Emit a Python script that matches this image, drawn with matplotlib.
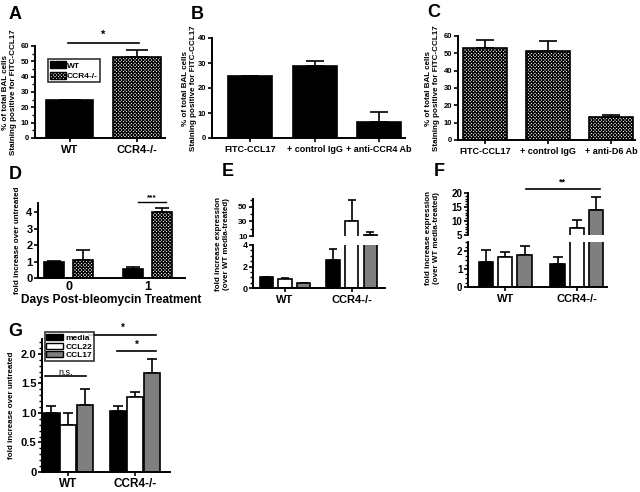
import numpy as np
import matplotlib
matplotlib.use("Agg")
import matplotlib.pyplot as plt
from matplotlib.patches import Patch

plt.rcParams['font.family'] = ['Liberation Sans', 'DejaVu Sans']
plt.rcParams['font.weight'] = 'bold'
plt.rcParams['hatch.linewidth'] = 0.8

# ---- data ----
a_labels = ['WT', 'CCR4-/-']
a_vals = [25, 53]
a_err = [0, 4.5]

b_labels = ['FITC-CCL17', '+ control IgG', '+ anti-CCR4 Ab']
b_vals = [25, 29, 6.5]
b_err = [0, 2, 4]

c_labels = ['FITC-CCL17', '+ control IgG', '+ anti-D6 Ab']
c_vals = [53, 51.5, 13.5]
c_err = [4.5, 5.5, 1]

d_days = ['0', '1']
d_wt = [1.0, 0.55]
d_wt_err = [0.05, 0.13]
d_ko = [1.12, 4.0]
d_ko_err = [0.58, 0.27]

groups = ['WT', 'CCR4-/-']
e_media = [1.05, 2.6]
e_media_err = [0, 1.0]
e_ccl22 = [0.85, 30]
e_ccl22_err = [0.05, 30]
e_ccl17 = [0.5, 12]
e_ccl17_err = [0, 4]

f_media = [1.37, 1.26]
f_media_err = [0.7, 0.43]
f_ccl22 = [1.64, 7.5]
f_ccl22_err = [0.32, 2.9]
f_ccl17 = [1.78, 13.9]
f_ccl17_err = [0.49, 4.7]

g_media = [1.0, 1.04]
g_media_err = [0.12, 0.07]
g_ccl22 = [0.80, 1.27]
g_ccl22_err = [0.19, 0.09]
g_ccl17 = [1.13, 1.67]
g_ccl17_err = [0.28, 0.25]
g_legend = ['media', 'CCL22', 'CCL17']

W, H = 640, 492
fig = plt.figure(figsize=(W / 100, H / 100), dpi=100)
GRAY = '#7f7f7f'
HATCH = 'xxxxxxxxxx'


def add_ax(x0, y0, x1, y1):
    return fig.add_axes([x0 / W, 1 - y1 / H, (x1 - x0) / W, (y1 - y0) / H])


def style(ax, ysize=6, xsize=7, bottom=True):
    for s in ['top', 'right']:
        ax.spines[s].set_visible(False)
    ax.spines['left'].set_linewidth(1.4)
    ax.spines['bottom'].set_linewidth(1.4)
    if not bottom:
        ax.spines['bottom'].set_visible(False)
    ax.tick_params(axis='y', width=1.2, length=3, labelsize=ysize, pad=1)
    ax.tick_params(axis='y', which='minor', width=1, length=2)
    ax.tick_params(axis='x', width=1.2, length=3, labelsize=xsize, pad=2)
    for t in ax.get_yticklabels() + ax.get_xticklabels():
        t.set_fontweight('bold')


def bars(ax, x, vals, err, color, hatch=None, width=0.7, cap=5):
    ax.bar(x, vals, width, color=color, edgecolor='black', linewidth=1.2,
           hatch=hatch, zorder=2)
    ax.errorbar(x, vals, yerr=[np.zeros(len(vals)), err], fmt='none',
                ecolor='black', elinewidth=1.2, capsize=cap, capthick=1.2,
                zorder=1)


def panel_letter(x, y, s):
    fig.text(x / W, 1 - y / H, s, fontsize=13, fontweight='bold',
             va='top', ha='left')


ylab_bal = '% of total BAL cells\nStaining positive for FITC-CCL17'

# ---- A ----
ax = add_ax(35, 46, 165, 138)
xa = np.arange(len(a_vals))
ax.bar(xa[0], a_vals[0], 0.7, color='black', edgecolor='black', linewidth=1.2, zorder=2)
ax.bar(xa[1], a_vals[1], 0.72, color='white', edgecolor='black', linewidth=1.2,
       hatch=HATCH, zorder=2)
ax.errorbar(xa, a_vals, yerr=[[0, 0], a_err], fmt='none', ecolor='black',
            elinewidth=1.2, capsize=8, capthick=1.2, zorder=1)
ax.set_xlim(-0.52, 1.42)
ax.set_ylim(0, 60)
ax.set_yticks(range(0, 61, 10))
ax.set_yticks(range(0, 61, 5), minor=True)
ax.set_xticks(xa)
ax.set_xticklabels(a_labels)
style(ax, ysize=5.5, xsize=8)
ax.set_ylabel(ylab_bal, fontsize=5.8, fontweight='bold', labelpad=3)
ax.plot([-0.03, 1.03], [62, 62], color='black', lw=1.2, clip_on=False)
ax.text(0.5, 64, '*', ha='center', va='bottom', fontsize=8)
leg = ax.legend(handles=[Patch(fc='black', ec='black', label='WT'),
                         Patch(fc='white', ec='black', hatch=HATCH, label='CCR4-/-')],
                loc='upper left', bbox_to_anchor=(0.07, 0.9), frameon=True,
                fancybox=False, edgecolor='black', borderpad=0.25,
                handlelength=1.9, handleheight=0.9, handletextpad=0.1,
                labelspacing=0.25, prop={'weight': 'bold', 'size': 6})
leg.get_frame().set_linewidth(1.2)
panel_letter(9, 6, 'A')

# ---- B ----
ax = add_ax(212, 38, 405, 138)
xb = np.arange(len(b_vals))
bars(ax, xb, b_vals, b_err, 'black', width=0.68, cap=6.5)
ax.set_xlim(-0.59, 2.4)
ax.set_ylim(0, 40)
ax.set_yticks(range(0, 41, 10))
ax.set_xticks(xb)
ax.set_xticklabels(b_labels)
style(ax, ysize=5.5, xsize=6.5)
ax.set_ylabel(ylab_bal, fontsize=5.8, fontweight='bold', labelpad=1)
panel_letter(191, 6, 'B')

# ---- C ----
ax = add_ax(458, 36, 635, 140)
xc = np.arange(len(c_vals))
bars(ax, xc, c_vals, c_err, 'white', hatch=HATCH, width=0.7, cap=6.5)
ax.set_xlim(-0.43, 2.38)
ax.set_ylim(0, 60)
ax.set_yticks(range(0, 61, 10))
ax.set_xticks(xc)
ax.set_xticklabels(c_labels)
style(ax, ysize=5.5, xsize=6.5)
ax.set_ylabel(ylab_bal, fontsize=5.8, fontweight='bold', labelpad=3)
panel_letter(427, 4, 'C')

# ---- D ----
ax = add_ax(38, 203, 185, 278)
xd = np.arange(len(d_days))
bars(ax, xd - 0.187, d_wt, d_wt_err, 'black', width=0.254, cap=5)
bars(ax, xd + 0.187, d_ko, d_ko_err, 'white', hatch=HATCH, width=0.254, cap=5)
ax.set_xlim(-0.39, 1.48)
ax.set_ylim(0, 4.55)
ax.set_yticks(range(0, 5))
ax.set_xticks(xd)
ax.set_xticklabels(d_days)
style(ax, ysize=8, xsize=9)
ax.tick_params(axis='x', length=0)
ax.set_xlabel('Days Post-bleomycin Treatment', fontsize=8.6, fontweight='bold', labelpad=1)
ax.set_ylabel('fold increase over untreated', fontsize=5.8, fontweight='bold', labelpad=4)
ax.plot([0.88, 1.24], [4.62, 4.62], color='black', lw=1, clip_on=False)
ax.text(1.06, 4.68, '***', ha='center', va='bottom', fontsize=6)
panel_letter(9, 166, 'D')

# ---- E (broken axis) ----
xe = np.arange(len(groups))
ax_up = add_ax(253, 199, 385, 236)
ax_lo = add_ax(253, 245, 385, 288)
for a in (ax_up, ax_lo):
    bars(a, xe - 0.28, e_media, e_media_err, 'black', width=0.2, cap=3)
    bars(a, xe, e_ccl22, e_ccl22_err, 'white', width=0.2, cap=3)
    bars(a, xe + 0.28, e_ccl17, e_ccl17_err, GRAY, width=0.2, cap=3)
    a.set_xlim(-0.48, 1.5)
ax_up.set_ylim(10, 61)
ax_up.set_yticks([10, 30, 50])
ax_up.set_yticks([20, 40, 60], minor=True)
ax_up.set_xticks([])
style(ax_up, ysize=6, bottom=False)
ax_lo.set_ylim(0, 4)
ax_lo.set_yticks([0, 2, 4])
ax_lo.set_yticks(np.arange(0, 4.01, 0.5), minor=True)
ax_lo.set_xticks(xe)
ax_lo.set_xticklabels(groups)
style(ax_lo, ysize=6.5, xsize=8)
fig.text(222 / W, 1 - 244 / H, 'fold increase expression\n(over WT media-treated)',
         rotation=90, fontsize=5.8, fontweight='bold', ha='center', va='center')
panel_letter(222, 163, 'E')

# ---- F (broken axis) ----
ax_up = add_ax(468, 193, 607, 235)
ax_lo = add_ax(468, 242, 607, 287)
for a in (ax_up, ax_lo):
    bars(a, xe - 0.27, f_media, f_media_err, 'black', width=0.2, cap=3.5)
    bars(a, xe, f_ccl22, f_ccl22_err, 'white', width=0.2, cap=3.5)
    bars(a, xe + 0.27, f_ccl17, f_ccl17_err, GRAY, width=0.2, cap=3.5)
    a.set_xlim(-0.52, 1.42)
ax_up.set_ylim(5, 20)
ax_up.set_yticks([5, 10, 15, 20])
ax_up.set_yticks(range(5, 21), minor=True)
ax_up.set_xticks([])
style(ax_up, ysize=7, bottom=False)
ax_lo.set_ylim(0, 2.5)
ax_lo.set_yticks([0, 1, 2])
ax_lo.set_yticks(np.arange(0, 2.51, 0.25), minor=True)
ax_lo.set_xticks(xe)
ax_lo.set_xticklabels(groups)
style(ax_lo, ysize=7, xsize=8)
ax_up.plot([0.29, 1.32], [21.4, 21.4], color='black', lw=1.2, clip_on=False)
ax_up.text(0.8, 22.3, '**', ha='center', va='bottom', fontsize=6.5)
fig.text(432 / W, 1 - 238 / H, 'fold increase expression\n(over WT media-treated)',
         rotation=90, fontsize=5.8, fontweight='bold', ha='center', va='center')
panel_letter(434, 163, 'F')

# ---- G ----
ax = add_ax(42, 339, 170, 472)
bars(ax, xe - 0.25, g_media, g_media_err, 'black', width=0.245, cap=3.5)
bars(ax, xe, g_ccl22, g_ccl22_err, 'white', width=0.245, cap=3.5)
bars(ax, xe + 0.25, g_ccl17, g_ccl17_err, GRAY, width=0.245, cap=3.5)
ax.set_xlim(-0.39, 1.52)
ax.set_ylim(0, 2.25)
ax.set_yticks([0, 0.5, 1.0, 1.5, 2.0])
ax.set_yticklabels(['0', '0.5', '1.0', '1.5', '2.0'])
ax.set_yticks(np.arange(0, 2.21, 0.1), minor=True)
ax.set_xticks(xe)
ax.set_xticklabels(groups)
style(ax, ysize=8, xsize=8.5)
ax.tick_params(axis='x', pad=1)
ax.set_ylabel('fold increase over untreated', fontsize=5.8, fontweight='bold', labelpad=4)
ax.plot([0.31, 1.31], [2.32, 2.32], color='black', lw=1.2, clip_on=False)
ax.text(0.81, 2.35, '*', ha='center', va='bottom', fontsize=7)
ax.plot([0.73, 1.31], [2.04, 2.04], color='black', lw=1.2, clip_on=False)
ax.text(1.02, 2.07, '*', ha='center', va='bottom', fontsize=7)
ax.plot([-0.34, 0.27], [1.62, 1.62], color='black', lw=1.2, clip_on=False)
ax.text(-0.035, 1.60, 'n.s.', ha='center', va='bottom', fontsize=6.5, fontweight='normal')
leg = ax.legend(handles=[Patch(fc='black', ec='black', label=g_legend[0]),
                         Patch(fc='white', ec='black', label=g_legend[1]),
                         Patch(fc=GRAY, ec='black', label=g_legend[2])],
                loc='upper left', bbox_to_anchor=(0.02, 1.05), frameon=True,
                fancybox=False, edgecolor='black', borderpad=0.2,
                handlelength=2.0, handleheight=0.7, handletextpad=0.3,
                labelspacing=0.1, borderaxespad=0.0,
                prop={'weight': 'bold', 'size': 6})
leg.get_frame().set_linewidth(1.2)
panel_letter(8, 323, 'G')

fig.savefig('out.png', dpi=100)
